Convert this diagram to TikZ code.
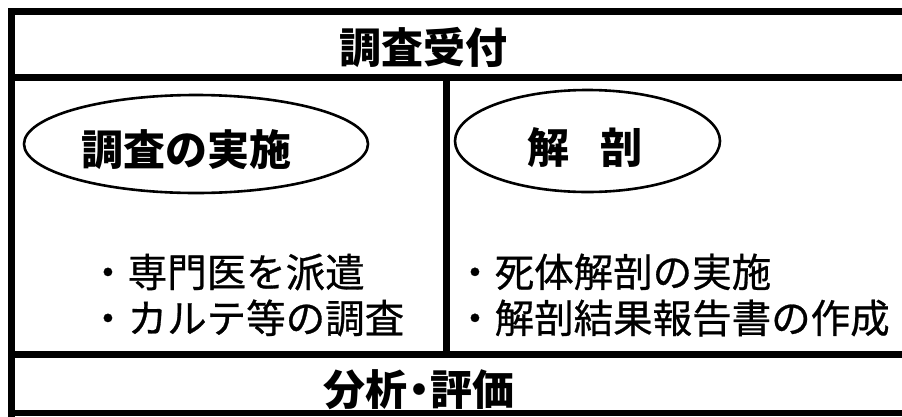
\documentclass[tikz,border=0pt]{standalone}
\usepackage{fontspec}
\newfontfamily\jp{Noto Sans CJK JP}
\newfontfamily\jpm[FakeBold=0.7]{Noto Sans CJK JP}
\usetikzlibrary{shapes.geometric}
\begin{document}
\begin{tikzpicture}[x=1pt,y=-1pt,
  frame/.style={line width=7pt, line cap=rect, line join=miter},
  oval/.style={ellipse, draw, line width=2.6pt, inner sep=0pt},
  title/.style={font=\jp\bfseries\fontsize{42}{50}\selectfont, inner sep=0pt},
  item/.style={font=\jpm\fontsize{39.5}{46}\selectfont, inner sep=0pt, anchor=west, align=left}]
\useasboundingbox (0,0) rectangle (902,416);
\fill[white] (0,0) rectangle (902,416);
% frame
\draw[frame] (905,11.5) -- (11.5,11.5) -- (11.5,420);
\draw[frame] (11.5,77) -- (905,77);
\draw[frame] (11.5,354) -- (905,354);
\draw[line width=6pt] (8,413) -- (905,413);
\draw[line width=7pt] (446,77) -- (446,354);
% header / footer
\node[title] (head) at (423.5,47.5) {調査受付};
\node[title] (foot) at (419,390) {分析\kern-0.22em・\kern-0.22em評価};
% ovals
\node[oval, minimum width=344pt, minimum height=98pt] (e1) at (196,144) {};
\node[oval, minimum width=265pt, minimum height=102pt] (e2) at (587.5,141) {};
\node[title] (t1) at (186.5,149.5) {調査の実施};
\node[title] (t2) at (585,147.5) {解\kern-0.125em　\kern-0.125em剖};
% items
\node[item] (l1) at (88,295) {・専門医を派遣\\・カルテ等の調査};
\node[item] (r1) at (455,295) {・死体解剖の実施\\・解剖結果報告書の作成};
\end{tikzpicture}
\end{document}
